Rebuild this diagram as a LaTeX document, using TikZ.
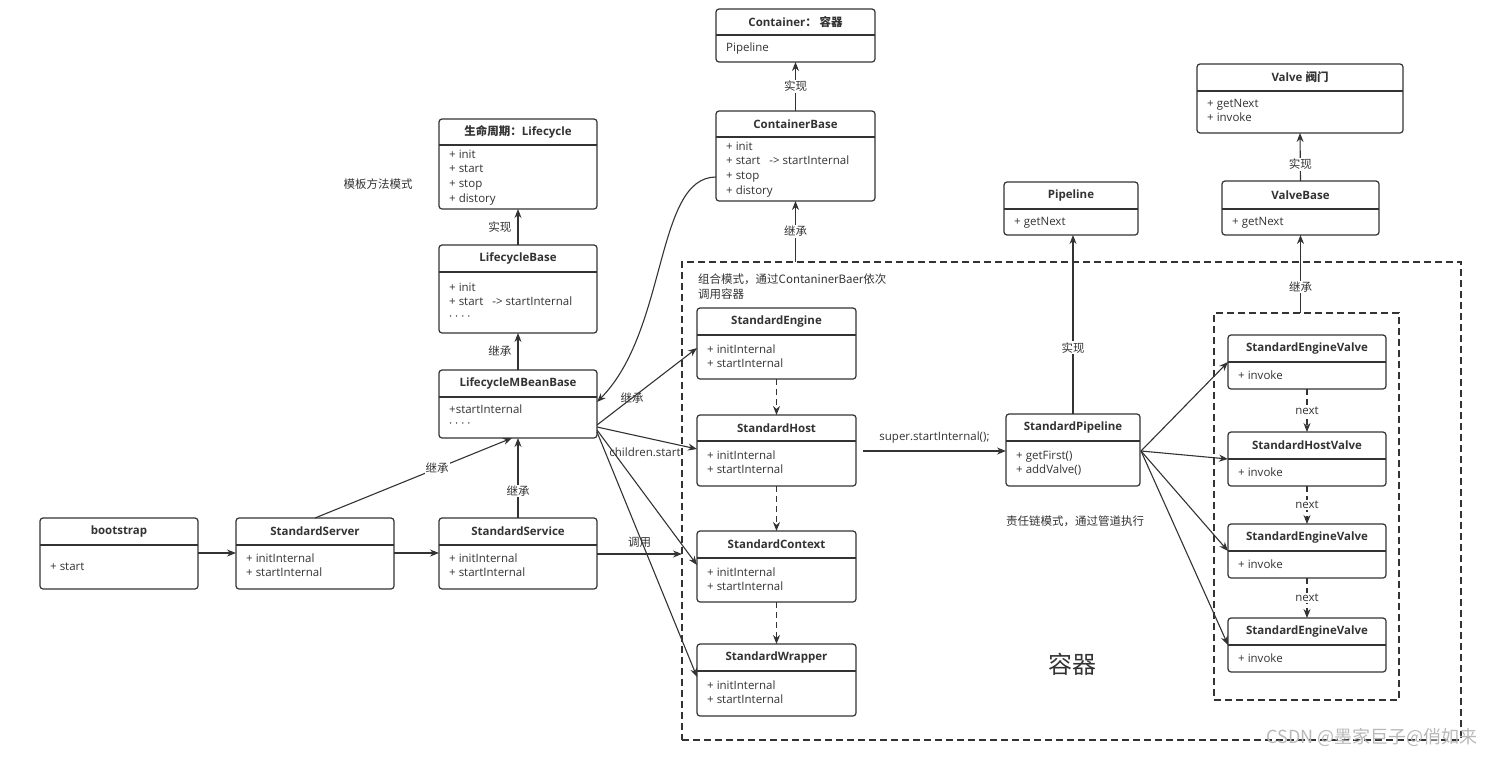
\documentclass[tikz,border=0pt]{standalone}
\usepackage{fontspec}
\setmainfont{Open Sans}
\newfontfamily\cjk{Noto Sans CJK SC}
\usetikzlibrary{arrows.meta,calc}
\definecolor{ink}{HTML}{333333}
\definecolor{wm}{HTML}{B8B8B8}
\tikzset{
 umlrect/.style={draw=ink, line width=1.2pt, rounded corners=3pt, fill=white, inner sep=0pt, outer sep=0pt},
 sepline/.style={draw=ink, line width=1.2pt},
 titletext/.style={font=\fontsize{11.5}{14}\selectfont\bfseries, text=ink, inner sep=0pt},
 bodytext/.style={font=\fontsize{11.5}{14}\selectfont, text=ink, anchor=west, inner sep=0pt, text height=8.5pt, text depth=2.5pt},
 conn/.style={draw=ink, line width=1.1pt, -{Stealth[length=9pt,width=7pt]}},
 dconn/.style={conn, dash pattern=on 6pt off 4pt},
 group/.style={draw=ink, line width=1.1pt, dash pattern=on 7pt off 4pt, inner sep=0pt, outer sep=0pt},
 lbl/.style={font=\cjk\fontsize{11.5}{15}\selectfont, text=ink, inner sep=1pt},
 lblbg/.style={lbl, fill=white},
 latlbl/.style={font=\fontsize{11.5}{14}\selectfont, text=ink, inner sep=1pt},
}
\newcommand\umlbox[9]{%
 \pgfmathsetmacro\umlW{#4-#2}%
 \pgfmathsetmacro\umlH{#5-#3}%
 \node[umlrect, minimum width=\umlW pt, minimum height=\umlH pt] (#1) at ({(#2+#4)/2},{(#3+#5)/2}) {};
 \draw[sepline] (#2,#6) -- (#4,#6);
 \node[titletext] (#1-t) at ({(#2+#4)/2},{(#3+#6)/2}) {#7};
 \foreach \umlline [count=\i] in {#9} {\node[bodytext] (#1-\i) at (#2+10,{#8+(\i-1)*14.8}) {\umlline};}
}
\begin{document}
\begin{tikzpicture}[x=1pt,y=-1pt]
\useasboundingbox (0,0) rectangle (1500,756);
% groups
\node[group, minimum width=779pt, minimum height=478pt] (cont) at (1071.5,501) {};
\node[group, minimum width=185pt, minimum height=387pt] (vbox) at (1306.5,506.5) {};
% boxes
\umlbox{boot}{40}{518}{198}{589}{545}{bootstrap}{567}{+ start}
\umlbox{server}{236}{518}{394}{589}{545}{StandardServer}{559}{+ initInternal,+ startInternal}
\umlbox{service}{439}{518}{597}{589}{545}{StandardService}{559}{+ initInternal,+ startInternal}
\umlbox{mbean}{439}{370}{597}{438}{397}{LifecycleMBeanBase}{410}{+startInternal,· · · ·}
\umlbox{lcbase}{439}{245}{597}{333}{272}{LifecycleBase}{288}{+ init,+ start\ \ \ -> startInternal,· · · ·}
\umlbox{lifecycle}{439}{119}{597}{209}{145}{{\cjk 生命周期：}Lifecycle}{155}{+ init,+ start,+ stop,+ distory}
\umlbox{cbase}{716}{111}{875}{201}{137}{ContainerBase}{147}{+ init,+ start\ \ \ -> startInternal,+ stop,+ distory}
\umlbox{container}{716}{9}{875}{62}{35}{Container{\cjk ：\ 容器}}{48}{Pipeline}
\umlbox{eng}{697}{308}{856}{379}{335}{StandardEngine}{350}{+ initInternal,+ startInternal}
\umlbox{host}{697}{415}{856}{486}{441}{StandardHost}{456}{+ initInternal,+ startInternal}
\umlbox{ctx}{697}{531}{856}{602}{558}{StandardContext}{573}{+ initInternal,+ startInternal}
\umlbox{wrap}{697}{644}{856}{716}{671}{StandardWrapper}{686}{+ initInternal,+ startInternal}
\umlbox{spipe}{1006}{414}{1140}{486}{441}{StandardPipeline}{456}{+ getFirst(),+ addValve()}
\umlbox{pipeline}{1004}{182}{1138}{235}{209}{Pipeline}{222}{+ getNext}
\umlbox{valve}{1197}{64}{1403}{133}{91}{Valve {\cjk 阀门}}{104}{+ getNext,+ invoke}
\umlbox{vbase}{1222}{181}{1379}{235}{209}{ValveBase}{222}{+ getNext}
\umlbox{v1}{1228}{335}{1386}{389}{362}{StandardEngineValve}{376}{+ invoke}
\umlbox{v2}{1228}{432}{1386}{486}{459}{StandardHostValve}{473}{+ invoke}
\umlbox{v3}{1228}{524}{1386}{578}{551}{StandardEngineValve}{565}{+ invoke}
\umlbox{v4}{1228}{618}{1386}{672}{645}{StandardEngineValve}{659}{+ invoke}
% connectors left
\draw[conn] ($(boot.north east)+(0,35)$) -- ($(server.north west)+(0,35)$);
\draw[conn] ($(server.north east)+(0,35)$) -- ($(service.north west)+(0,35)$);
\draw[conn] (server.north) -- node[lblbg,pos=0.62]{继承} ($(mbean.south)+(-6,0)$);
\draw[conn] (service.north) -- node[lblbg,pos=0.34]{继承} (mbean.south);
\draw[conn] (mbean.north) -- node[lbl,anchor=east,xshift=-5pt]{继承} (lcbase.south);
\draw[conn] (lcbase.north) -- node[lbl,anchor=east,xshift=-5pt]{实现} (lifecycle.south);
\draw[conn] ($(cbase.north west)+(0,66)$) .. controls (655,177) and (668,330) .. ($(mbean.north east)+(0,32)$);
\draw[conn] ($(mbean.north east)+(0,55)$) -- node[lbl,pos=0.35]{继承} ($(eng.north west)+(0,40)$);
\draw[conn] ($(mbean.north east)+(0,57)$) -- node[latlbl,pos=0.5,yshift=-14pt,xshift=-2pt]{children.start} ($(host.north west)+(0,34)$);
\draw[conn] ($(mbean.north east)+(0,60)$) -- ($(ctx.north west)+(0,34)$);
\draw[conn] ($(mbean.north east)+(0,62)$) -- ($(wrap.north west)+(0,33)$);
\draw[conn] ($(service.north east)+(0,36)$) -- node[lbl,pos=0.5,yshift=12pt]{调用} ($(cont.north west)+(0,292)$);
% container chain
\draw[conn] (cbase.south |- cont.north) -- node[lblbg]{继承} (cbase.south);
\draw[conn] (cbase.north) -- node[lblbg]{实现} (container.south);
\draw[dconn] (eng.south) -- (host.north);
\draw[dconn] (host.south) -- (ctx.north);
\draw[dconn] (ctx.south) -- (wrap.north);
\draw[conn] ($(host.north east)+(7,36)$) -- node[latlbl,pos=0.5,yshift=13pt]{super.startInternal();} ($(spipe.north west)+(0,37)$);
\draw[conn] (spipe.north) -- node[lblbg,pos=0.37]{实现} (spipe.north |- pipeline.south);
% valves
\draw[conn] ($(spipe.north east)+(1,37)$) -- ($(v1.north west)+(0,27)$);
\draw[conn] ($(spipe.north east)+(1,37)$) -- ($(v2.north west)+(0,27)$);
\draw[conn] ($(spipe.north east)+(1,37)$) -- ($(v3.north west)+(0,27)$);
\draw[conn] ($(spipe.north east)+(1,37)$) -- ($(v4.north west)+(0,27)$);
\draw[dconn] (v1.south) -- node[latlbl,fill=white]{next} (v2.north);
\draw[dconn] (v2.south) -- node[latlbl,fill=white]{next} (v3.north);
\draw[dconn] (v3.south) -- node[latlbl,fill=white]{next} (v4.north);
\draw[conn] (vbase.south |- vbox.north) -- node[lblbg,pos=0.33]{继承} (vbase.south);
\draw[conn] (vbase.north) -- node[lblbg,pos=0.35]{实现} (valve.south);
% free texts
\node[lbl] (tmpl) at (378,184) {模板方法模式};
\node[lbl, anchor=north west, align=left] (comp) at (697,273) {组合模式，通过ContaninerBaer依次\\调用容器};
\node[lbl] (chain) at (1075,521) {责任链模式，通过管道执行};
\node[font=\cjk\fontsize{24}{28}\selectfont, text=ink] (big) at (1072,664) {容器};
\node[font=\cjk\fontsize{18}{20}\selectfont, text=wm] (wmk) at (1372,737) {CSDN @墨家巨子@俏如来};
\end{tikzpicture}
\end{document}
